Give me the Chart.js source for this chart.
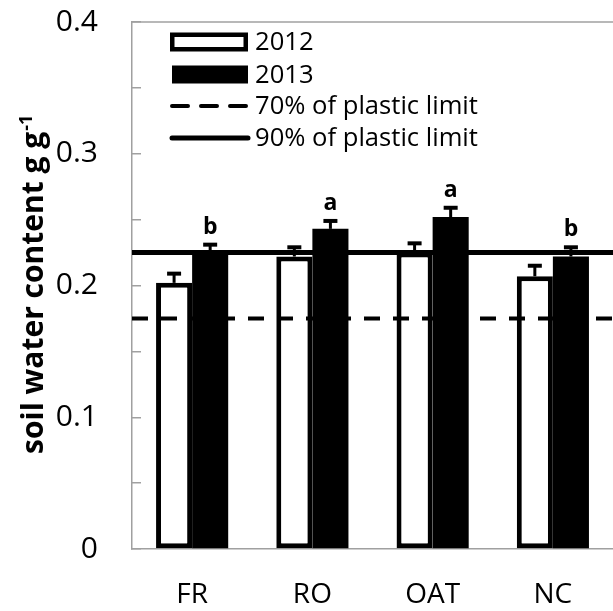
<!DOCTYPE html>
<html><head><meta charset="utf-8">
<script src="https://cdn.jsdelivr.net/npm/chart.js@4.4.0/dist/chart.umd.min.js"></script>
<style>html,body{margin:0;padding:0;background:#fff;}#wrap{width:613px;height:611px;}</style>
</head><body><div id="wrap"><canvas id="c" width="613" height="611"></canvas></div>
<script>
const categories = ['FR', 'RO', 'OAT', 'NC'];
const series2012 = [0.202, 0.222, 0.225, 0.207];
const series2013 = [0.224, 0.243, 0.252, 0.222];
const error2012 = [0.007, 0.007, 0.007, 0.008];
const error2013 = [0.007, 0.006, 0.007, 0.007];
const letters2013 = ['b', 'a', 'a', 'b'];
const plasticLimit70 = 0.175;
const plasticLimit90 = 0.225;
const seriesLabels = ['2012', '2013', '70% of plastic limit', '90% of plastic limit'];
const yTitleMain = 'soil water content g g';
const yTitleSup = '-1';

const FONT = 'Open Sans';

const limitLines = [
  {label: seriesLabels[2], value: plasticLimit70, color: '#000000', width: 4, dash: [16, 13]},
  {label: seriesLabels[3], value: plasticLimit90, color: '#000000', width: 5, dash: []}
];

const framePlugin = {
  id: 'topFrame',
  beforeDatasetsDraw(chart) {
    const ctx = chart.ctx, a = chart.chartArea;
    ctx.save();
    ctx.strokeStyle = '#a0a0a0';
    ctx.lineWidth = 1.5;
    ctx.beginPath();
    ctx.moveTo(a.left, a.top);
    ctx.lineTo(a.right, a.top);
    ctx.stroke();
    ctx.restore();
  }
};

const limitLinePlugin = {
  id: 'limitLines',
  afterDatasetsDraw(chart) {
    const ctx = chart.ctx, a = chart.chartArea, yScale = chart.scales.y;
    ctx.save();
    limitLines.forEach(l => {
      const py = yScale.getPixelForValue(l.value);
      ctx.strokeStyle = l.color;
      ctx.lineWidth = l.width;
      ctx.setLineDash(l.dash);
      ctx.beginPath();
      ctx.moveTo(a.left, py);
      ctx.lineTo(a.right, py);
      ctx.stroke();
    });
    ctx.restore();
  }
};

const errorBarPlugin = {
  id: 'errorBars',
  afterDatasetsDraw(chart) {
    const ctx = chart.ctx;
    const yScale = chart.scales.y;
    chart.data.datasets.forEach((ds, di) => {
      if (!ds.errors) return;
      const meta = chart.getDatasetMeta(di);
      meta.data.forEach((el, i) => {
        const v = ds.data[i];
        const yTop = yScale.getPixelForValue(v);
        const yErr = yScale.getPixelForValue(v + ds.errors[i]);
        ctx.save();
        ctx.strokeStyle = '#000';
        ctx.lineWidth = 3;
        ctx.beginPath();
        ctx.moveTo(el.x, yTop);
        ctx.lineTo(el.x, yErr);
        ctx.stroke();
        ctx.lineWidth = 4;
        ctx.beginPath();
        ctx.moveTo(el.x - 7, yErr);
        ctx.lineTo(el.x + 7, yErr);
        ctx.stroke();
        if (ds.letters) {
          ctx.fillStyle = '#000';
          ctx.font = 'bold 23px "' + FONT + '"';
          ctx.textAlign = 'center';
          ctx.textBaseline = 'alphabetic';
          ctx.fillText(ds.letters[i], el.x, yErr - 11);
        }
        ctx.restore();
      });
    });
  }
};

const legendPlugin = {
  id: 'insideLegend',
  afterDraw(chart) {
    const ctx = chart.ctx;
    const x0 = 170, w = 78, textX = 255;
    const rows = [42, 74.5, 106, 138];
    const items = chart.data.datasets.map(ds => ({kind: 'bar', ds}))
      .concat(limitLines.map(l => ({kind: 'line', l})));
    ctx.save();
    items.forEach((it, i) => {
      const cy = rows[i];
      let label;
      if (it.kind === 'bar') {
        const ds = it.ds;
        label = ds.label;
        const bw = ds.borderWidth || 0;
        const h = 18;
        if (bw > 0) {
          ctx.fillStyle = ds.borderColor;
          ctx.fillRect(x0, cy - h / 2 - 0.5, w, h + 1);
          ctx.fillStyle = ds.backgroundColor;
          ctx.fillRect(x0 + 4.5, cy - h / 2 + 4, w - 9, h - 8);
        } else {
          ctx.fillStyle = ds.backgroundColor;
          ctx.fillRect(x0 + 2, cy - h / 2, w - 2, h);
        }
      } else {
        const l = it.l;
        label = l.label;
        ctx.strokeStyle = l.color;
        ctx.lineWidth = l.width;
        ctx.setLineDash(l.dash);
        ctx.lineCap = 'round';
        ctx.beginPath();
        ctx.moveTo(x0 + 2, cy);
        ctx.lineTo(x0 + w, cy);
        ctx.stroke();
        ctx.setLineDash([]);
        ctx.lineCap = 'butt';
      }
      ctx.fillStyle = '#000';
      ctx.font = '25.6px "' + FONT + '"';
      ctx.textAlign = 'left';
      ctx.textBaseline = 'middle';
      ctx.fillText(label, textX, cy + 1);
    });
    ctx.restore();
  }
};

const yTitlePlugin = {
  id: 'yTitle',
  afterDraw(chart) {
    const ctx = chart.ctx;
    ctx.save();
    ctx.translate(43, 454);
    ctx.rotate(-Math.PI / 2);
    ctx.fillStyle = '#000';
    ctx.textAlign = 'left';
    ctx.textBaseline = 'alphabetic';
    ctx.font = 'bold 30px "' + FONT + '"';
    ctx.fillText(yTitleMain, 0, 0);
    const mw = ctx.measureText(yTitleMain).width;
    ctx.font = 'bold 18px "' + FONT + '"';
    ctx.fillText(yTitleSup, mw + 1, -11);
    ctx.restore();
  }
};

new Chart(document.getElementById('c'), {
  type: 'bar',
  data: {
    labels: categories,
    datasets: [
      {label: seriesLabels[0], data: series2012, backgroundColor: '#ffffff', borderColor: '#000000',
       borderWidth: 5, borderSkipped: false, barPercentage: 1, categoryPercentage: 0.6,
       errors: error2012},
      {label: seriesLabels[1], data: series2013, backgroundColor: '#000000', borderColor: '#000000',
       borderWidth: 0, barPercentage: 1, categoryPercentage: 0.6,
       errors: error2013, letters: letters2013}
    ]
  },
  options: {
    responsive: false,
    animation: false,
    devicePixelRatio: 1,
    layout: {padding: {top: 22, left: 0, right: 0, bottom: 0}},
    plugins: {legend: {display: false}, tooltip: {enabled: false}, title: {display: false}},
    scales: {
      x: {
        type: 'category', offset: true, position: 'bottom',
        afterFit: s => { s.height = 62; s.paddingLeft = 0; s.paddingRight = 0; },
        border: {display: true, color: '#a0a0a0', width: 1.5},
        grid: {display: false, drawTicks: false},
        ticks: {padding: 29, color: '#000', font: {family: FONT, size: 28}, maxRotation: 0, autoSkip: false}
      },
      y: {
        min: 0, max: 0.4,
        afterFit: s => { s.width = 132; s.paddingTop = 0; s.paddingBottom = 0; },
        border: {display: true, color: '#a0a0a0', width: 1.5},
        grid: {display: true, drawOnChartArea: false, drawTicks: true, tickLength: -9, color: '#a0a0a0', lineWidth: 1.5},
        ticks: {
          stepSize: 0.05, padding: 43, color: '#000', font: {family: FONT, size: 30}, autoSkip: false,
          callback: v => {
            if (Math.abs(v * 10 - Math.round(v * 10)) > 1e-6) return '';
            return v === 0 ? '0' : v.toFixed(1);
          }
        }
      }
    }
  },
  plugins: [framePlugin, limitLinePlugin, errorBarPlugin, legendPlugin, yTitlePlugin]
});
</script></body></html>
